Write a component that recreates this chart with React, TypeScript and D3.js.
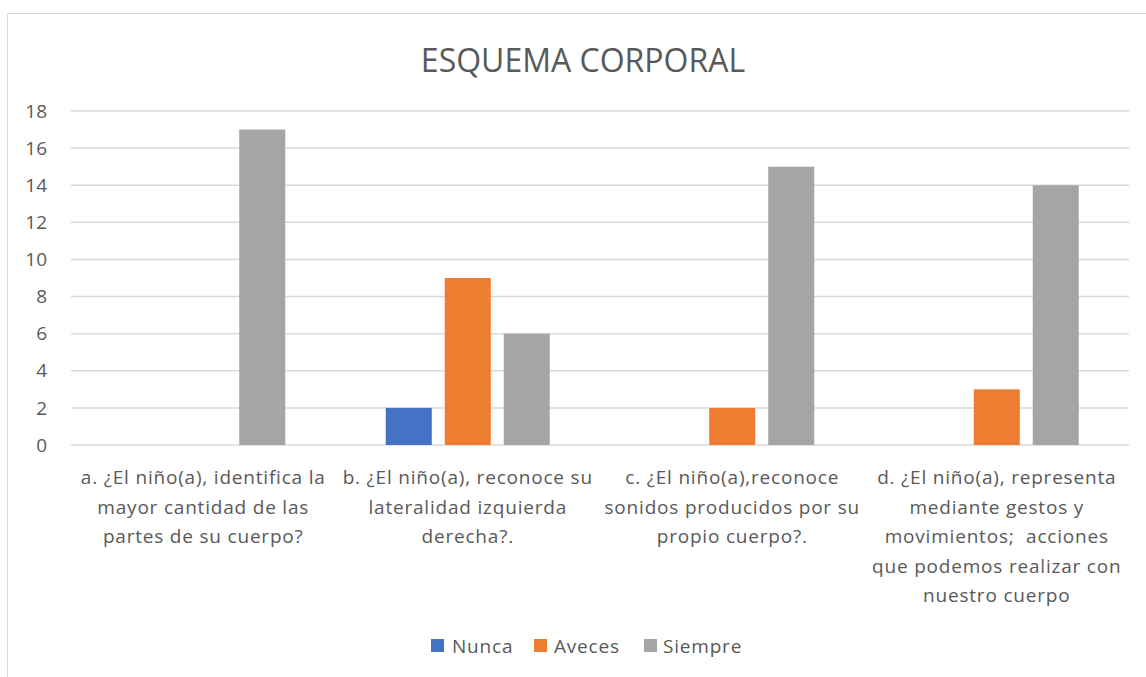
import * as d3 from 'd3';

const categories = ['a', 'b', 'c', 'd'];
const categoryLines: string[][] = [
    ['a. ¿El niño(a), identifica la', 'mayor cantidad de las', 'partes de su cuerpo?'],
    ['b. ¿El niño(a), reconoce su', 'lateralidad izquierda', 'derecha?.'],
    ['c. ¿El niño(a),reconoce', 'sonidos producidos por su', 'propio cuerpo?.'],
    ['d. ¿El niño(a), representa', 'mediante gestos y', 'movimientos;  acciones', 'que podemos realizar con', 'nuestro cuerpo'],
];
const seriesNames = ['Nunca', 'Aveces', 'Siempre'];
const nunca = [0, 2, 0, 0];
const aveces = [0, 9, 2, 3];
const siempre = [17, 6, 15, 14];
const seriesValues = [nunca, aveces, siempre];
const colors = ['#4472C4', '#ED7D31', '#A5A5A5'];
const yTicks = [0, 2, 4, 6, 8, 10, 12, 14, 16, 18];

const W = 1146;
const H = 677;
const FONT = '"Open Sans", sans-serif';
const TEXT = '#595959';

export default function App() {
    const plot = { left: 71, right: 1129, top: 111, bottom: 445 };

    const x0 = d3.scaleBand<string>()
        .domain(categories)
        .range([plot.left, plot.right])
        .padding(0);
    const gw = x0.bandwidth();
    const span = 164;
    const x1 = d3.scaleBand<string>()
        .domain(seriesNames)
        .range([(gw - span) / 2, (gw + span) / 2])
        .paddingInner(0.22)
        .paddingOuter(0);
    const y = d3.scaleLinear().domain([0, 18]).range([plot.bottom, plot.top]);

    const legendItems = [
        { name: 'Nunca', sq: 431, tx: 452 },
        { name: 'Aveces', sq: 534, tx: 554 },
        { name: 'Siempre', sq: 644, tx: 663 },
    ];

    return (
        <div style={{ position: 'absolute', left: 0, top: 0 }}>
            <svg width={W} height={H} style={{ display: 'block', background: '#fff' }} fontFamily={FONT}>
                <rect x={7.5} y={13.5} width={1152} height={700} fill="#fff" stroke="#d9d9d9" />
                <text x={583} y={72} textAnchor="middle" fontSize={32} fill={TEXT}>ESQUEMA CORPORAL</text>

                {/* gridlines + y labels */}
                {yTicks.map(t => (
                    <g key={t}>
                        <line x1={plot.left} x2={plot.right} y1={y(t)} y2={y(t)} stroke="#d9d9d9" strokeWidth={1.5} />
                        <text x={47} y={y(t)} dy="0.35em" textAnchor="end" fontSize={19} fill={TEXT}>{t}</text>
                    </g>
                ))}

                {/* bars */}
                {categories.map((c, ci) => (
                    <g key={c} transform={`translate(${x0(c)},0)`}>
                        {seriesNames.map((s, si) => {
                            const v = seriesValues[si][ci];
                            if (v <= 0) return null;
                            return (
                                <rect key={s} x={x1(s)} y={y(v)} width={x1.bandwidth()} height={y(0) - y(v)} fill={colors[si]} />
                            );
                        })}
                    </g>
                ))}

                {/* category labels */}
                {categories.map((c, ci) => (
                    <text key={c} textAnchor="middle" fontSize={19} letterSpacing={0.8} fill={TEXT}>
                        {categoryLines[ci].map((ln, li) => (
                            <tspan key={li} x={(x0(c) ?? 0) + gw / 2} y={484 + li * 29.5} style={{ whiteSpace: 'pre' }}>{ln}</tspan>
                        ))}
                    </text>
                ))}

                {/* legend */}
                {legendItems.map((it, i) => (
                    <g key={it.name}>
                        <rect x={it.sq} y={639} width={13} height={13} fill={colors[i]} />
                        <text x={it.tx} y={653} fontSize={19} letterSpacing={0.8} fill={TEXT}>{it.name}</text>
                    </g>
                ))}
            </svg>
        </div>
    );
}
